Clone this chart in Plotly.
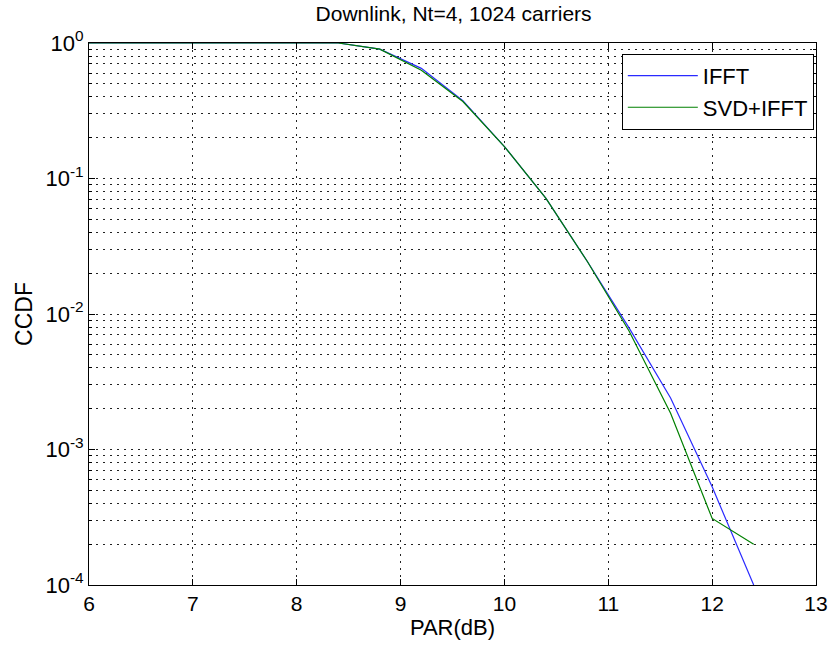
import plotly.graph_objects as go

par_db = [6.0, 6.4, 6.8, 7.2, 7.6, 8.0, 8.4, 8.8, 9.2, 9.6, 10.0, 10.4, 10.8, 11.2, 11.6, 12.0, 12.4]
ccdf_ifft = [1, 1, 1, 1, 1, 1, 1, 0.90, 0.65, 0.375, 0.172, 0.0714, 0.0243, 0.0079, 0.0024, 0.00053, 0.0001]
ccdf_svd = [1, 1, 1, 1, 1, 1, 1, 0.90, 0.63, 0.37, 0.172, 0.0714, 0.0243, 0.0075, 0.00185, 0.00031, 0.0002]
series_names = ["IFFT", "SVD+IFFT"]
x_ticks = [6, 7, 8, 9, 10, 11, 12, 13]
y_ticks = [1e-4, 1e-3, 1e-2, 1e-1, 1]
y_tick_text = ["10<sup>-4</sup>", "10<sup>-3</sup>", "10<sup>-2</sup>", "10<sup>-1</sup>", "10<sup>0</sup>"]
y_minor = [m * 10 ** e for e in range(-4, 0) for m in range(2, 10)]

FONT = "Liberation Sans, Arial, sans-serif"

fig = go.Figure()
fig.add_trace(go.Scatter(x=par_db, y=ccdf_ifft, mode="lines", name=series_names[0],
                         line=dict(color="#2a2aff", width=1.2)))
fig.add_trace(go.Scatter(x=par_db, y=ccdf_svd, mode="lines", name=series_names[1],
                         line=dict(color="#008000", width=1.2)))

grid = dict(gridcolor="#222222", gridwidth=1, griddash="2px,5px")

fig.update_layout(
    width=840, height=648,
    margin=dict(l=89, r=14, t=43, b=63),
    paper_bgcolor="white", plot_bgcolor="white",
    font=dict(family=FONT, size=21, color="black"),
    title=dict(text="Downlink, Nt=4, 1024 carriers", x=0.540, xanchor="center",
               y=1 - 14 / 648, yanchor="middle", font=dict(size=21)),
    xaxis=dict(range=[6, 13], tickvals=x_ticks, ticks="inside", ticklen=6,
               tickcolor="black", showline=True, linecolor="black", linewidth=1,
               mirror="ticks", showgrid=True, zeroline=False,
               tickfont=dict(size=21),
               title=dict(text="PAR(dB)", standoff=2, font=dict(size=22)), **grid),
    yaxis=dict(type="log", range=[-4, 0], tickvals=y_ticks, ticktext=y_tick_text,
               ticks="inside", ticklen=6, tickcolor="black", showline=True,
               linecolor="black", linewidth=1, mirror="ticks", showgrid=True,
               zeroline=False, tickfont=dict(size=22),
               title=dict(text="CCDF", standoff=6, font=dict(size=23)),
               minor=dict(tickvals=y_minor, ticks="inside", ticklen=3, tickcolor="black",
                          showgrid=True, gridcolor="#222222", griddash="2px,5px", gridwidth=1),
               **grid),
    legend=dict(x=0.997, y=0.98, xanchor="right", yanchor="top",
                bgcolor="white", bordercolor="black", borderwidth=1,
                font=dict(size=22), itemwidth=70, tracegroupgap=0),
    showlegend=True,
)

fig.write_html("out.html")
